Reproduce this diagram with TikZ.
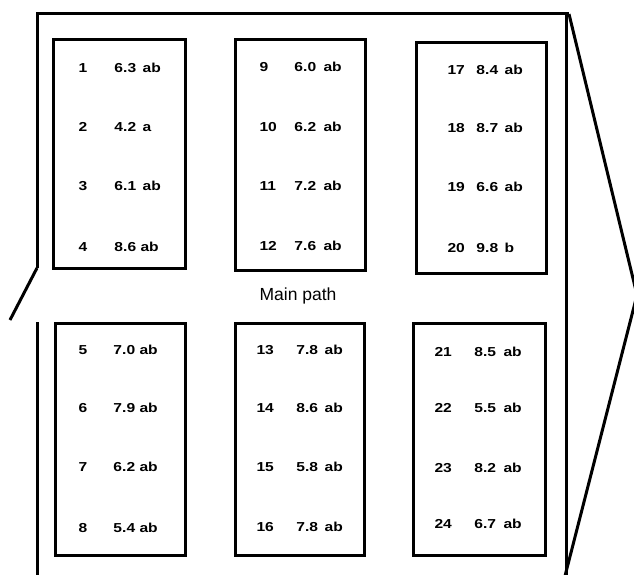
\documentclass[tikz,border=0pt]{standalone}
\usepackage{fontspec}
\setmainfont{Liberation Sans}
\newfontfamily\plotfont[FakeStretch=1.2]{Liberation Sans}
\begin{document}
\begin{tikzpicture}[x=1pt, y=-1pt, line width=3pt,
  plotbox/.style={draw, rectangle, inner sep=0pt},
  entry/.style={anchor=west, inner sep=0pt, font=\plotfont\bfseries\fontsize{13}{15}\selectfont}]
\useasboundingbox (0,0) rectangle (634,575);
% frame round the plots, with the gate on the left and the wedge on the right
\draw (37,268) -- (37,14) -- (569,14);
\draw (37,268) -- (10,320);
\draw (37,322) -- (37,576);
\draw (566,14) -- (566,576);
\draw (569,14) -- (637,295) -- (565,576);
% plots
\node[plotbox, minimum width=132, minimum height=228] (plotA) at (119,154) {};
\node[plotbox, minimum width=130, minimum height=230] (plotB) at (300,155) {};
\node[plotbox, minimum width=130, minimum height=230] (plotC) at (481,158) {};
\node[plotbox, minimum width=130, minimum height=232] (plotD) at (120,439) {};
\node[plotbox, minimum width=129, minimum height=232] (plotE) at (300,439) {};
\node[plotbox, minimum width=132, minimum height=232] (plotF) at (479,439) {};
\node[font=\fontsize{17.5}{20}\selectfont] (mainpath) at (298,296) {Main path};
% plot number, yield, group
\node[entry] (n1) at (77,68) {\makebox[36pt][l]{1}6.3\enspace ab};
\node[entry] (n2) at (77,127) {\makebox[36pt][l]{2}4.2\enspace a};
\node[entry] (n3) at (77,186) {\makebox[36pt][l]{3}6.1\enspace ab};
\node[entry] (n4) at (77,247) {\makebox[36pt][l]{4}8.6 ab};
\node[entry] (n5) at (77,350) {\makebox[35pt][l]{5}7.0 ab};
\node[entry] (n6) at (77,408) {\makebox[35pt][l]{6}7.9 ab};
\node[entry] (n7) at (77,467) {\makebox[35pt][l]{7}6.2 ab};
\node[entry] (n8) at (77,528) {\makebox[35pt][l]{8}5.4 ab};
\node[entry] (n9) at (258,67) {\makebox[35pt][l]{9}6.0\hspace{3pt} ab};
\node[entry] (n10) at (258,127) {\makebox[35pt][l]{10}6.2\hspace{3pt} ab};
\node[entry] (n11) at (258,186) {\makebox[35pt][l]{11}7.2\hspace{3pt} ab};
\node[entry] (n12) at (258,246) {\makebox[35pt][l]{12}7.6\hspace{3pt} ab};
\node[entry] (n13) at (255,350) {\makebox[40pt][l]{13}7.8\enspace ab};
\node[entry] (n14) at (255,408) {\makebox[40pt][l]{14}8.6\enspace ab};
\node[entry] (n15) at (255,467) {\makebox[40pt][l]{15}5.8\enspace ab};
\node[entry] (n16) at (255,527) {\makebox[40pt][l]{16}7.8\enspace ab};
\node[entry] (n17) at (446,70) {\makebox[29pt][l]{17}8.4\enspace ab};
\node[entry] (n18) at (446,128) {\makebox[29pt][l]{18}8.7\enspace ab};
\node[entry] (n19) at (446,187) {\makebox[29pt][l]{19}6.6\enspace ab};
\node[entry] (n20) at (446,248) {\makebox[29pt][l]{20}9.8\enspace b};
\node[entry] (n21) at (433,352) {\makebox[40pt][l]{21}8.5\hspace{3pt} ab};
\node[entry] (n22) at (433,408) {\makebox[40pt][l]{22}5.5\hspace{3pt} ab};
\node[entry] (n23) at (433,468) {\makebox[40pt][l]{23}8.2\hspace{3pt} ab};
\node[entry] (n24) at (433,524) {\makebox[40pt][l]{24}6.7\hspace{3pt} ab};
\end{tikzpicture}
\end{document}
